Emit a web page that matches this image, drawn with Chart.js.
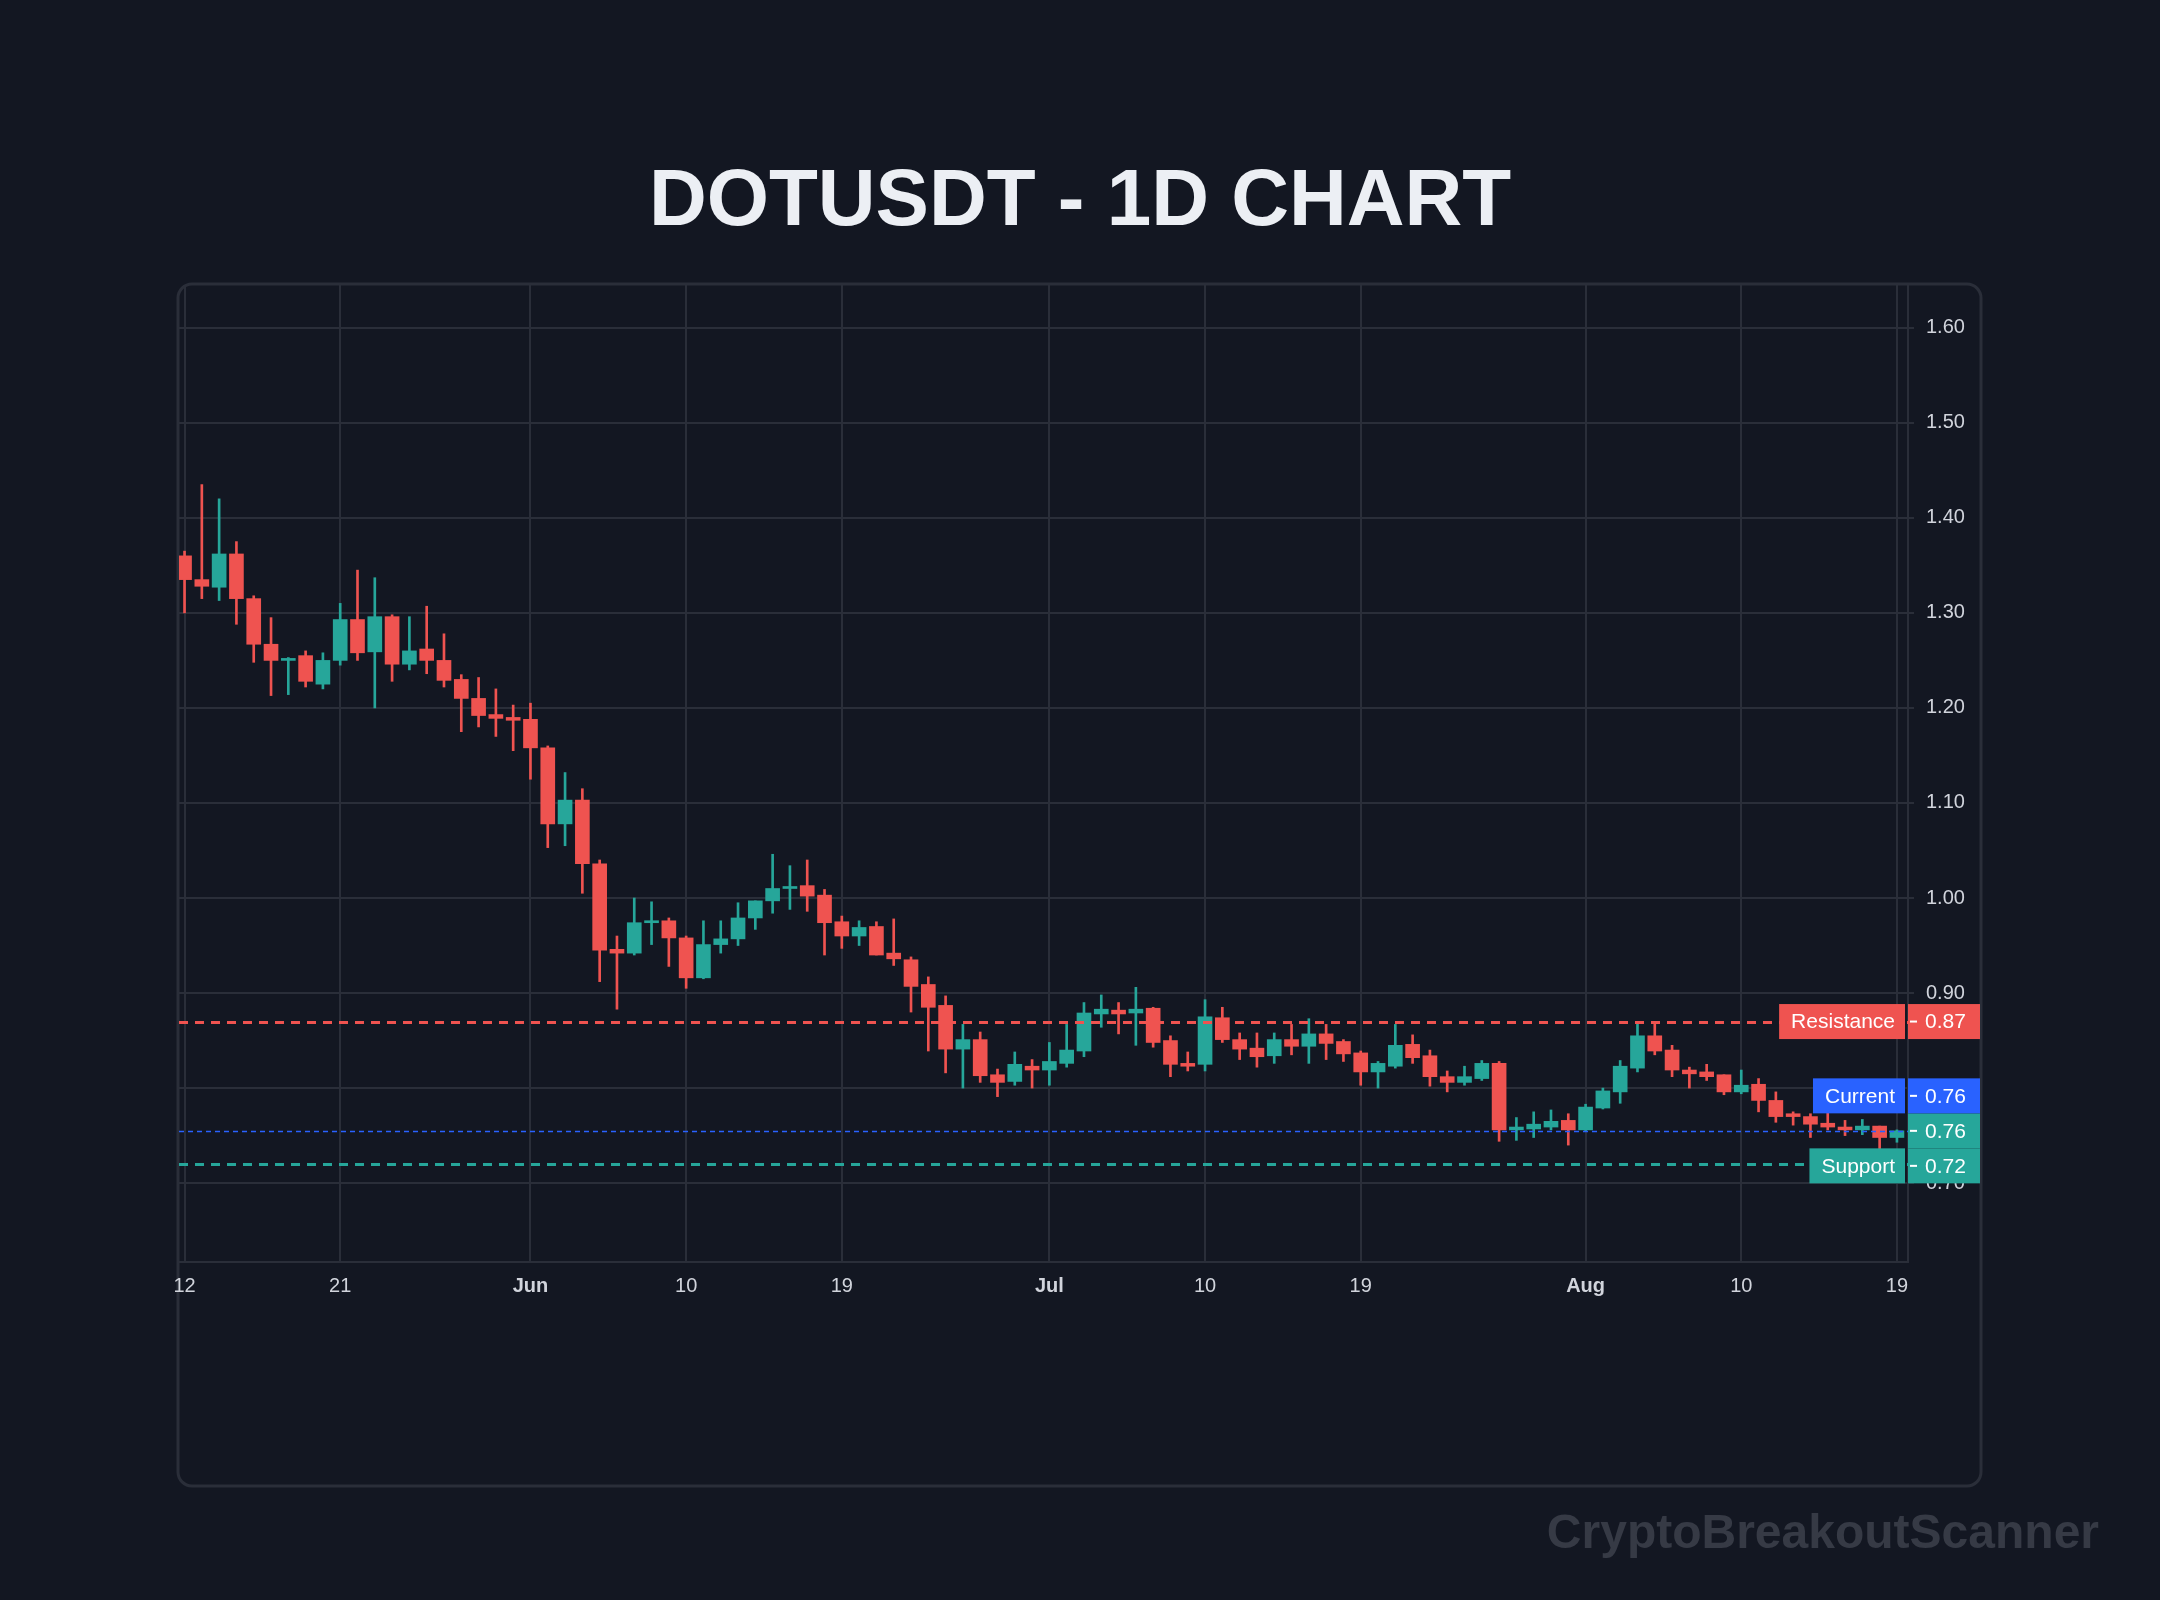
<!DOCTYPE html>
<html><head><meta charset="utf-8">
<script src="https://cdn.jsdelivr.net/npm/chart.js@4.4.1/dist/chart.umd.min.js"></script>
<style>html,body{margin:0;padding:0;background:#131722;}canvas{display:block;}</style>
</head><body>
<canvas id="c" width="2160" height="1600" style="width:2160px;height:1600px"></canvas>
<script>
const TITLE = "DOTUSDT - 1D CHART";
const WATERMARK = "CryptoBreakoutScanner";
const open = [1.36,1.335,1.327,1.362,1.315,1.267,1.25,1.255,1.225,1.25,1.293,1.259,1.296,1.246,1.262,1.25,1.23,1.21,1.193,1.19,
1.188,1.158,1.078,1.103,1.036,0.946,0.942,0.974,0.976,0.958,0.916,0.951,0.957,0.979,0.997,1.01,1.013,1.003,0.975,0.96,
0.97,0.942,0.935,0.909,0.887,0.841,0.851,0.814,0.807,0.823,0.819,0.826,0.839,0.878,0.882,0.879,0.884,0.85,0.826,0.825,
0.874,0.851,0.842,0.834,0.851,0.844,0.857,0.849,0.837,0.817,0.823,0.846,0.834,0.812,0.806,0.81,0.826,0.756,0.757,0.759,
0.766,0.756,0.779,0.796,0.821,0.855,0.84,0.819,0.817,0.814,0.796,0.804,0.787,0.773,0.77,0.763,0.759,0.756,0.76,0.748];
const high = [1.365,1.435,1.42,1.375,1.318,1.295,1.253,1.26,1.258,1.31,1.345,1.337,1.298,1.296,1.307,1.278,1.235,1.232,1.22,1.203,
1.205,1.16,1.132,1.115,1.04,0.96,1.0,0.996,0.979,0.96,0.976,0.976,0.995,0.997,1.046,1.034,1.04,1.009,0.981,0.976,
0.975,0.978,0.938,0.917,0.897,0.867,0.859,0.82,0.838,0.83,0.848,0.867,0.89,0.898,0.89,0.906,0.885,0.855,0.838,0.893,
0.885,0.858,0.858,0.858,0.867,0.873,0.867,0.851,0.839,0.828,0.867,0.856,0.84,0.818,0.823,0.829,0.828,0.769,0.775,0.777,
0.773,0.783,0.8,0.829,0.868,0.868,0.845,0.822,0.825,0.814,0.819,0.81,0.796,0.775,0.773,0.782,0.766,0.767,0.76,0.756];
const low = [1.30,1.315,1.313,1.288,1.248,1.213,1.214,1.222,1.22,1.245,1.25,1.20,1.228,1.24,1.236,1.222,1.175,1.18,1.17,1.155,
1.125,1.053,1.055,1.005,0.912,0.883,0.94,0.951,0.928,0.905,0.915,0.942,0.95,0.967,0.984,0.988,0.986,0.94,0.947,0.95,
0.94,0.929,0.88,0.839,0.816,0.80,0.806,0.791,0.803,0.80,0.803,0.822,0.833,0.864,0.857,0.845,0.843,0.812,0.818,0.818,
0.848,0.83,0.822,0.826,0.835,0.826,0.83,0.828,0.803,0.80,0.821,0.826,0.802,0.796,0.803,0.808,0.744,0.745,0.748,0.756,
0.74,0.755,0.778,0.784,0.817,0.835,0.812,0.80,0.808,0.793,0.794,0.775,0.764,0.761,0.748,0.756,0.75,0.751,0.717,0.743];
const close = [1.335,1.328,1.362,1.315,1.267,1.25,1.252,1.228,1.25,1.293,1.258,1.296,1.246,1.26,1.25,1.229,1.21,1.192,1.189,1.187,
1.158,1.078,1.103,1.036,0.945,0.942,0.974,0.975,0.958,0.916,0.951,0.957,0.979,0.997,1.01,1.012,1.002,0.974,0.96,0.969,
0.94,0.936,0.907,0.885,0.841,0.851,0.813,0.806,0.825,0.819,0.828,0.84,0.879,0.883,0.878,0.883,0.848,0.825,0.823,0.875,
0.851,0.841,0.833,0.851,0.844,0.857,0.847,0.836,0.817,0.826,0.845,0.832,0.812,0.806,0.812,0.826,0.756,0.759,0.762,0.765,
0.756,0.78,0.797,0.823,0.855,0.839,0.819,0.815,0.812,0.796,0.803,0.787,0.77,0.77,0.762,0.759,0.756,0.76,0.748,0.755];
const tickIndex = [0,9,20,29,38,50,59,68,81,90,99];
const tickText = ["12","21","Jun","10","19","Jul","10","19","Aug","10","19"];
const monthTicks = ["Jun","Jul","Aug"];
const yTicks = [0.7,0.8,0.9,1.0,1.1,1.2,1.3,1.4,1.5,1.6];
const resistance = 0.87, support = 0.72, current = 0.755;

const UP='#26a69a', DOWN='#ef5350', BLUE='#2962ff', GRID='#2a2e39', TXT='#d1d4dc';
const FONT='"Liberation Sans", Arial, sans-serif';
const col = close.map((c,i)=> c>=open[i]?UP:DOWN);
const idx = close.map((_,i)=>i);

function rr(ctx,x,y,w,h,r){ctx.beginPath();ctx.moveTo(x+r,y);ctx.arcTo(x+w,y,x+w,y+h,r);ctx.arcTo(x+w,y+h,x,y+h,r);ctx.arcTo(x,y+h,x,y,r);ctx.arcTo(x,y,x+w,y,r);ctx.closePath();}

const deco = {
  id:'deco',
  beforeDraw(chart){
    const ctx=chart.ctx; ctx.save();
    ctx.fillStyle='#131722'; ctx.fillRect(0,0,chart.width,chart.height);
    rr(ctx,178,284,1803,1202,14); ctx.lineWidth=3; ctx.strokeStyle=GRID; ctx.stroke();
    ctx.fillStyle='#eceff4'; ctx.font='bold 80px '+FONT; ctx.textAlign='center'; ctx.textBaseline='middle';
    ctx.fillText(TITLE,1080,203);
    ctx.fillStyle='#363a45'; ctx.font='bold 48px '+FONT; ctx.textAlign='right';
    ctx.fillText(WATERMARK,2099,1535);
    ctx.restore();
  },
  afterDatasetsDraw(chart){
    const ctx=chart.ctx, a=chart.chartArea, y=chart.scales.y;
    ctx.save();
    const line=(v,c,w,d)=>{ctx.beginPath();ctx.setLineDash(d);ctx.lineWidth=w;ctx.strokeStyle=c;const py=Math.round(y.getPixelForValue(v))+0.5;ctx.moveTo(a.left,py);ctx.lineTo(a.right,py);ctx.stroke();};
    line(resistance,DOWN,3,[9,7]);
    line(support,UP,3,[9,7]);
    line(current,BLUE,1.5,[5,4]);
    ctx.restore();
  },
  afterDraw(chart){
    const ctx=chart.ctx, a=chart.chartArea, y=chart.scales.y;
    ctx.save();
    ctx.font='21px '+FONT; ctx.textBaseline='middle';
    const H=35;
    const box=(cy,name,val,c)=>{
      if(name){const w=ctx.measureText(name).width+22; ctx.fillStyle=c; ctx.fillRect(a.right-3-w,cy-H/2,w,H);
        ctx.fillStyle='#fff'; ctx.textAlign='right'; ctx.fillText(name,a.right-13,cy+1);}
      ctx.fillStyle=c; ctx.fillRect(a.right,cy-H/2,72,H);
      ctx.fillStyle='#fff'; ctx.fillRect(a.right+2,cy-1,7,2);
      ctx.textAlign='left'; ctx.fillText(val,a.right+17,cy+1);
    };
    const last=close[close.length-1];
    const ly=y.getPixelForValue(last);
    box(y.getPixelForValue(resistance),'Resistance',resistance.toFixed(2),DOWN);
    box(ly,null,last.toFixed(2),col[col.length-1]);
    box(ly-H,'Current',current.toFixed(2),BLUE);
    box(Math.max(y.getPixelForValue(support),ly+H),'Support',support.toFixed(2),UP);
    ctx.restore();
  }
};

new Chart(document.getElementById('c'),{
  type:'bar',
  data:{datasets:[
    {data:idx.map(i=>({x:i,y:[low[i],high[i]]})),backgroundColor:col,barThickness:2,grouped:false,order:2},
    {data:idx.map(i=>({x:i,y:[open[i],close[i]]})),backgroundColor:col,barThickness:14,minBarLength:2,grouped:false,order:1}
  ]},
  options:{
    responsive:false,animation:false,devicePixelRatio:1,
    layout:{padding:{left:179,top:285,right:180,bottom:298}},
    plugins:{legend:{display:false},tooltip:{enabled:false},title:{display:false}},
    scales:{
      x:{type:'linear',min:-0.32,max:99.64,offset:false,
        afterBuildTicks:s=>{s.ticks=tickIndex.map(v=>({value:v}));},
        afterFit:s=>{s.height=40;},
        grid:{color:GRID,lineWidth:2,drawTicks:false,offset:false},
        border:{color:GRID,width:2},
        ticks:{color:TXT,padding:12,maxRotation:0,autoSkip:false,
          callback:v=>tickText[tickIndex.indexOf(v)],
          font:c=>({family:FONT,size:20,weight:(c.tick && monthTicks.includes(tickText[tickIndex.indexOf(c.tick.value)]))?'bold':'normal'})}
      },
      y:{position:'right',min:0.617,max:1.645,
        afterBuildTicks:s=>{s.ticks=yTicks.map(v=>({value:v}));},
        afterFit:s=>{s.width=72;},
        grid:{color:GRID,lineWidth:2,tickLength:6},
        border:{color:GRID,width:2},
        ticks:{color:TXT,padding:12,font:{family:FONT,size:20},callback:v=>Number(v).toFixed(2)}
      }
    }
  },
  plugins:[deco]
});
</script>
</body></html>
